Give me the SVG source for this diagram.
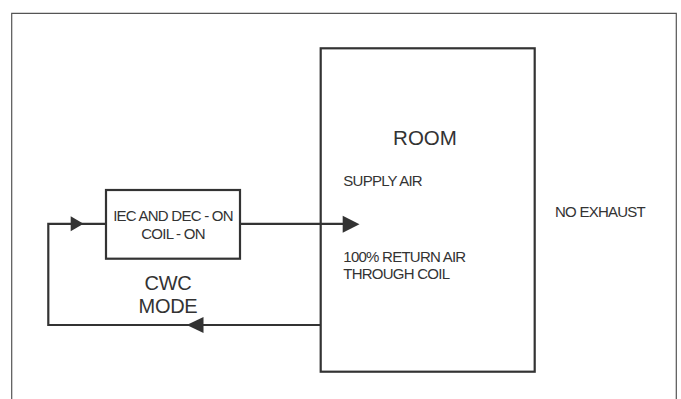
<svg xmlns="http://www.w3.org/2000/svg" width="681" height="399" viewBox="0 0 681 399">
<defs>
<style>
.frame{fill:none;stroke:#555;stroke-width:1.2}
.box{fill:#fff;stroke:#333;stroke-width:2.2}
.ln{fill:none;stroke:#333;stroke-width:2.2}
.ah{fill:#333}
text{font-family:"Liberation Sans",Arial,sans-serif;fill:#333}
.s{font-size:15px;letter-spacing:-0.75px}
.l{font-size:20px;letter-spacing:-0.3px}
.xl{font-size:20.5px}
</style>
</defs>
<rect width="681" height="399" fill="#fff"/>
<path class="frame" d="M11.7,400 V13.3 H676.3 V400"/>
<g id="room">
<rect class="box" x="320.7" y="48.3" width="214" height="323.4"/>
<text class="xl" x="425" y="145" text-anchor="middle">ROOM</text>
</g>
<g id="iec">
<rect class="box" x="106" y="190" width="134" height="68.7"/>
<text class="s" x="173" y="220.5" text-anchor="middle">IEC AND DEC - ON</text>
<text class="s" x="173" y="238.5" text-anchor="middle">COIL - ON</text>
</g>
<g id="labels">
<text class="s" x="343.3" y="185.5">SUPPLY AIR</text>
<text class="s" x="343.3" y="262">100% RETURN AIR</text>
<text class="s" x="343.3" y="278.5">THROUGH COIL</text>
<text class="s" x="555" y="216.5">NO EXHAUST</text>
<text class="l" x="168" y="290" text-anchor="middle">CWC</text>
<text class="l" x="168" y="313.3" text-anchor="middle">MODE</text>
</g>
<g id="connectors">
<path class="ln" d="M240,223.8 H345"/>
<polygon class="ah" points="342.7,215.8 359.5,224.3 342.7,232.8"/>
<path class="ln" d="M320.7,325 H48.3 V223.8 H106"/>
<polygon class="ah" points="70.7,216.3 83.5,223.8 70.7,231.3"/>
<polygon class="ah" points="203.5,317 186.7,325 203.5,333"/>
</g>
</svg>
